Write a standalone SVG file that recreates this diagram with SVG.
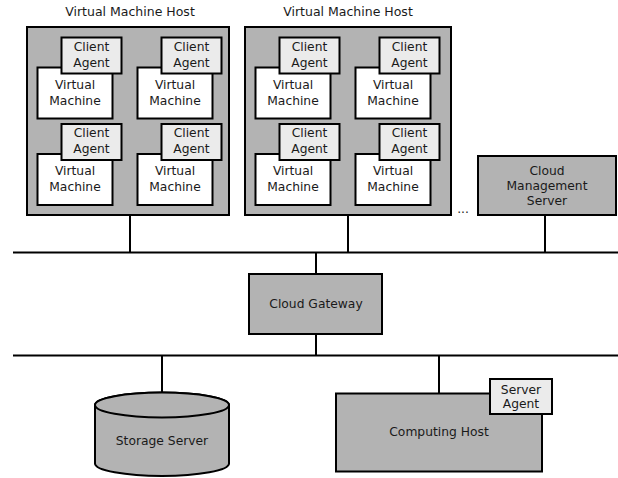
<svg xmlns="http://www.w3.org/2000/svg" width="618" height="478" viewBox="0 0 618 478">
<style>
.host{fill:#b3b3b3;stroke:#000;stroke-width:2}
.vm{fill:#fff;stroke:#000;stroke-width:2}
.ca{fill:#ebebeb;stroke:#000;stroke-width:2}
.node{fill:#b3b3b3;stroke:#000;stroke-width:2}
.ln{stroke:#000;stroke-width:2;fill:none}
text{font-family:"DejaVu Sans",sans-serif;font-size:12.3px;fill:#1a1a1a;text-anchor:middle}
.title{font-size:12.5px}
</style>
<defs>
<g id="vmunit">
<rect class="vm" x="0" y="30" width="75" height="51"/>
<text x="37.5" y="51">Virtual</text>
<text x="37.5" y="67">Machine</text>
<rect class="ca" x="24" y="0" width="60" height="36"/>
<text x="54" y="13">Client</text>
<text x="54" y="29">Agent</text>
</g>
</defs>
<g id="connectors">
<line class="ln" x1="13" y1="252.5" x2="618" y2="252.5"/>
<line class="ln" x1="13" y1="355.5" x2="618" y2="355.5"/>
<line class="ln" x1="130" y1="215" x2="130" y2="252.5"/>
<line class="ln" x1="348" y1="215" x2="348" y2="252.5"/>
<line class="ln" x1="545" y1="215" x2="545" y2="252.5"/>
<line class="ln" x1="316" y1="252.5" x2="316" y2="274"/>
<line class="ln" x1="316" y1="334" x2="316" y2="355.5"/>
<line class="ln" x1="162" y1="355.5" x2="162" y2="392.5"/>
<line class="ln" x1="439" y1="355.5" x2="439" y2="393.5"/>
</g>
<g id="host1">
<text class="title" x="130" y="15.5">Virtual Machine Host</text>
<rect class="host" x="27" y="27" width="202" height="188"/>
<use href="#vmunit" x="37.5" y="37.5"/>
<use href="#vmunit" x="137.5" y="37.5"/>
<use href="#vmunit" x="37.5" y="124"/>
<use href="#vmunit" x="137.5" y="124"/>
</g>
<g id="host2">
<text class="title" x="348" y="15.5">Virtual Machine Host</text>
<rect class="host" x="245" y="27" width="206" height="188"/>
<use href="#vmunit" x="255.5" y="37.5"/>
<use href="#vmunit" x="355.5" y="37.5"/>
<use href="#vmunit" x="255.5" y="124"/>
<use href="#vmunit" x="355.5" y="124"/>
</g>
<g id="ellipsis">
<text x="463" y="213">...</text>
</g>
<g id="cms">
<rect class="node" x="478" y="156" width="138" height="59"/>
<text x="547" y="175">Cloud</text>
<text x="547" y="189.5">Management</text>
<text x="547" y="204.5">Server</text>
</g>
<g id="gateway">
<rect class="node" x="249" y="274" width="133" height="60"/>
<text x="316" y="308">Cloud Gateway</text>
</g>
<g id="storage">
<path class="node" d="M95,405 L95,463.5 A67,12.5 0 0 0 229,463.5 L229,405 A67,12.5 0 0 0 95,405 Z"/>
<ellipse class="node" cx="162" cy="405" rx="67" ry="12.5"/>
<text x="162" y="444.5">Storage Server</text>
</g>
<g id="computing">
<rect class="node" x="336" y="393.5" width="206" height="78"/>
<text x="439" y="436">Computing Host</text>
<rect class="ca" x="490" y="379" width="62" height="35"/>
<text x="521" y="393.5">Server</text>
<text x="521" y="407.5">Agent</text>
</g>
</svg>
